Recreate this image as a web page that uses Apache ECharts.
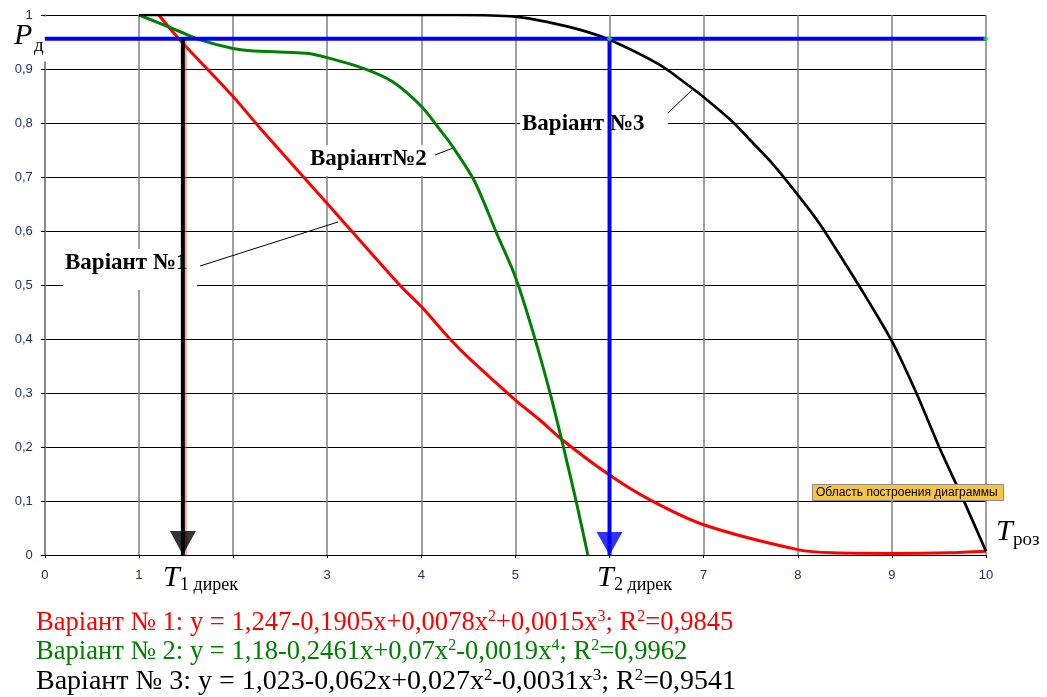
<!DOCTYPE html>
<html>
<head>
<meta charset="utf-8">
<script src="https://cdn.jsdelivr.net/npm/echarts@6/dist/echarts.min.js"></script>
<style>html,body{margin:0;padding:0;background:#fff}#c{width:1047px;height:697px}</style>
</head>
<body>
<div id="c"></div>
<script>
// ---- data ----
const xTicks = [0, 1, 2, 3, 4, 5, 6, 7, 8, 9, 10];
const yTicks = [0, 0.1, 0.2, 0.3, 0.4, 0.5, 0.6, 0.7, 0.8, 0.9, 1];

const variant1X = [1.21, 1.45, 2, 2.29, 3, 3.77, 4, 4.3, 4.51, 5, 5.26, 5.5, 6, 6.43, 7, 8, 8.37, 9, 9.6, 10];
const variant1Y = [1, 0.951, 0.849, 0.79, 0.651, 0.5, 0.46, 0.401, 0.364, 0.287, 0.25, 0.213, 0.148, 0.102, 0.056, 0.010, 0.004, 0.003, 0.004, 0.007];

const variant2X = [1, 1.44, 1.65, 2, 2.18, 2.78, 3, 3.42, 3.7, 4, 4.2, 4.31, 4.56, 4.8, 5.0, 5.19, 5.37, 5.51, 5.65, 5.77];
const variant2Y = [1, 0.969, 0.954, 0.938, 0.934, 0.929, 0.921, 0.899, 0.876, 0.831, 0.787, 0.762, 0.694, 0.596, 0.515, 0.411, 0.299, 0.2, 0.096, 0.0];

const variant3X = [1, 2, 3, 4, 4.4, 5, 5.37, 5.7, 6, 6.53, 6.85, 7, 7.31, 7.49, 7.74, 8, 8.23, 8.51, 8.72, 9, 9.26, 9.5, 9.76, 10];
const variant3Y = [1, 1, 1, 1, 1, 0.997, 0.986, 0.972, 0.954, 0.908, 0.868, 0.848, 0.802, 0.769, 0.723, 0.667, 0.614, 0.538, 0.479, 0.396, 0.30, 0.201, 0.102, 0.007];

const pd = 0.956;          // required probability level P_д
const t1Direk = 1.467;     // T1 дирек
const t2Direk = 6.0;       // T2 дирек
const tRoz = 10;           // T роз

const formulas = [
  {color: '#ff0000', size: 26.6, parts: ['Варіант № 1: y = 1,247-0,1905x+0,0078x', '2', '+0,0015x', '3', '; R', '2', '=0,9845']},
  {color: '#008000', size: 26.6, parts: ['Варіант № 2: y = 1,18-0,2461x+0,07x', '2', '-0,0019x', '4', '; R', '2', '=0,9962']},
  {color: '#000000', size: 28, parts: ['Варіант № 3: y = 1,023-0,062x+0,027x', '2', '-0,0031x', '3', '; R', '2', '=0,9541']}
];

const zip = (xs, ys) => xs.map((x, i) => [x, ys[i]]);
const fmtY = v => (v === 0 ? '0' : v === 1 ? '1' : v.toFixed(1).replace('.', ','));

const chart = echarts.init(document.getElementById('c'), null, {renderer: 'canvas'});

const SERIF = '"Liberation Serif", "Times New Roman", serif';
const labelColor = '#1d3461';

function richFormula(f) {
  return f.parts.map((p, i) => (i % 2 === 1 ? '{s|' + p + '}' : '{n|' + p + '}')).join('');
}

const graphics = [];
function boxLabel(bx, by, bw, bh, text, tx, ty) {
  graphics.push({type: 'rect', z: 1, shape: {x: bx, y: by, width: bw, height: bh}, style: {fill: '#fff'}});
  graphics.push({type: 'text', z: 1, style: {text: text, x: tx, y: ty, font: 'bold 23px ' + SERIF, fill: '#000', textAlign: 'left', textVerticalAlign: 'middle'}});
}
boxLabel(63, 249, 134, 41, 'Варіант №1', 65, 263);
boxLabel(300, 145, 140, 31, 'Варіант№2', 310, 159);
boxLabel(520, 108, 148, 32, 'Варіант №3', 522, 124);

// leader lines
graphics.push({type: 'line', z: 1, shape: {x1: 200, y1: 266, x2: 338, y2: 222}, style: {stroke: '#000', lineWidth: 1}});
graphics.push({type: 'line', z: 1, shape: {x1: 435, y1: 155, x2: 453, y2: 148}, style: {stroke: '#000', lineWidth: 1}});
graphics.push({type: 'line', z: 1, shape: {x1: 668, y1: 113, x2: 692, y2: 90}, style: {stroke: '#000', lineWidth: 1}});

// P_д
graphics.push({type: 'rect', z: 1, shape: {x: 37, y: 16.5, width: 9.5, height: 45}, style: {fill: '#fff'}});
graphics.push({type: 'text', z: 1, style: {text: 'P', x: 14, y: 36, font: 'italic 30px ' + SERIF, fill: '#000', textAlign: 'left', textVerticalAlign: 'middle'}});
graphics.push({type: 'text', z: 1, style: {text: 'д', x: 34, y: 46, font: '19px ' + SERIF, fill: '#000', textAlign: 'left', textVerticalAlign: 'middle'}});

// T labels
function tLabel(bx, tx, sub) {
  graphics.push({type: 'rect', z: 1, shape: {x: bx, y: 563, width: 82, height: 34}, style: {fill: '#fff'}});
  graphics.push({type: 'text', z: 1, style: {text: 'T', x: tx, y: 578, font: 'italic 30px ' + SERIF, fill: '#000', textAlign: 'left', textVerticalAlign: 'middle'}});
  graphics.push({type: 'text', z: 1, style: {text: sub, x: tx + 17, y: 585, font: '18px ' + SERIF, fill: '#000', textAlign: 'left', textVerticalAlign: 'middle'}});
}
tLabel(160, 163, '1 дирек');
tLabel(594, 597, '2 дирек');
graphics.push({type: 'text', z: 1, style: {text: 'T', x: 996, y: 532, font: 'italic 30px ' + SERIF, fill: '#000', textAlign: 'left', textVerticalAlign: 'middle'}});
graphics.push({type: 'text', z: 1, style: {text: 'роз', x: 1013, y: 540, font: '19px ' + SERIF, fill: '#000', textAlign: 'left', textVerticalAlign: 'middle'}});

// plot-area hint box
graphics.push({type: 'rect', z: 100, shape: {x: 812.5, y: 484.5, width: 191, height: 16}, style: {fill: '#f6c342', stroke: '#8c8c8c', lineWidth: 1}});
graphics.push({type: 'text', z: 100, style: {text: 'Область построения диаграммы', x: 816, y: 493, font: '12px "Liberation Sans", Arial, sans-serif', fill: '#000', textAlign: 'left', textVerticalAlign: 'middle'}});

// formulas
formulas.forEach((f, i) => {
  graphics.push({
    type: 'text', z: 1,
    style: {
      text: richFormula(f), x: 36, y: 623 + i * 29.5, textAlign: 'left', textVerticalAlign: 'middle',
      rich: {
        n: {fontFamily: SERIF, fontSize: f.size, fill: f.color, color: f.color},
        s: {fontFamily: SERIF, fontSize: Math.round(f.size * 0.62), fill: f.color, color: f.color, padding: [0, 0, 13, 0]}
      }
    }
  });
});

const arrowHead = 'path://M0,0L26,0L13,24Z';

chart.setOption({
  animation: false,
  backgroundColor: '#fff',
  grid: {left: 44.8, right: 61, top: 15, bottom: 142, containLabel: false},
  xAxis: {
    type: 'value', min: 0, max: 10, interval: 1,
    axisLine: {show: true, lineStyle: {color: '#000', width: 1}},
    axisTick: {show: true, length: 3, lineStyle: {color: '#000'}},
    axisLabel: {margin: 14, color: labelColor, fontSize: 13, fontFamily: '"Liberation Sans", Arial, sans-serif',
      formatter: v => String(xTicks[Math.round(v)])},
    splitLine: {show: true, lineStyle: {color: '#808080', width: 1.5}}
  },
  yAxis: {
    type: 'value', min: 0, max: 1, interval: 0.1,
    axisLine: {show: true, lineStyle: {color: '#808080', width: 1.5}},
    axisTick: {show: true, length: 4, lineStyle: {color: '#000'}},
    axisLabel: {margin: 12, color: labelColor, fontSize: 13, fontFamily: '"Liberation Sans", Arial, sans-serif',
      formatter: v => fmtY(yTicks[Math.round(v * 10)])},
    splitLine: {show: true, lineStyle: {color: '#000', width: 1}}
  },
  graphic: {elements: graphics},
  series: [
    {type: 'line', name: 'Варіант №1', data: zip(variant1X, variant1Y), smooth: 0.3, showSymbol: false, symbol: 'none',
      lineStyle: {color: '#ff0000', width: 3}, z: 3},
    {type: 'line', name: 'Варіант №2', data: zip(variant2X, variant2Y), smooth: 0.3, showSymbol: false, symbol: 'none',
      lineStyle: {color: '#008000', width: 3}, z: 3},
    {type: 'line', name: 'Варіант №3', data: zip(variant3X, variant3Y), smooth: 0.3, showSymbol: false, symbol: 'none',
      lineStyle: {color: '#000000', width: 2.7}, z: 3},
    {type: 'line', data: [[t1Direk + 0.033, pd], [t1Direk + 0.033, 0]], symbol: 'none', lineStyle: {color: '#ff5050', width: 1}, z: 4},
    {type: 'line', data: [[0, pd], [tRoz, pd]], symbol: 'none', lineStyle: {color: '#0000ff', width: 4}, z: 5},
    {type: 'line', data: [[t1Direk, pd], [t1Direk, 0]], symbol: 'none', lineStyle: {color: '#000000', width: 4}, z: 5},
    {type: 'line', data: [[t2Direk, pd], [t2Direk, 0]], symbol: 'none', lineStyle: {color: '#0000ff', width: 4}, z: 5},
    {type: 'scatter', data: [[t1Direk, 0]], symbol: arrowHead, symbolSize: [26, 24], symbolOffset: [0, -12], itemStyle: {color: '#000'}, z: 6, silent: true},
    {type: 'scatter', data: [[t2Direk, 0]], symbol: arrowHead, symbolSize: [26, 23], symbolOffset: [0, -11.5], itemStyle: {color: '#0000ff'}, z: 6, silent: true},
    {type: 'scatter', data: [[t2Direk, pd], [tRoz, pd]], symbol: 'diamond', symbolSize: 6, itemStyle: {color: '#33dd33'}, z: 6, silent: true}
  ]
});
</script>
</body>
</html>
